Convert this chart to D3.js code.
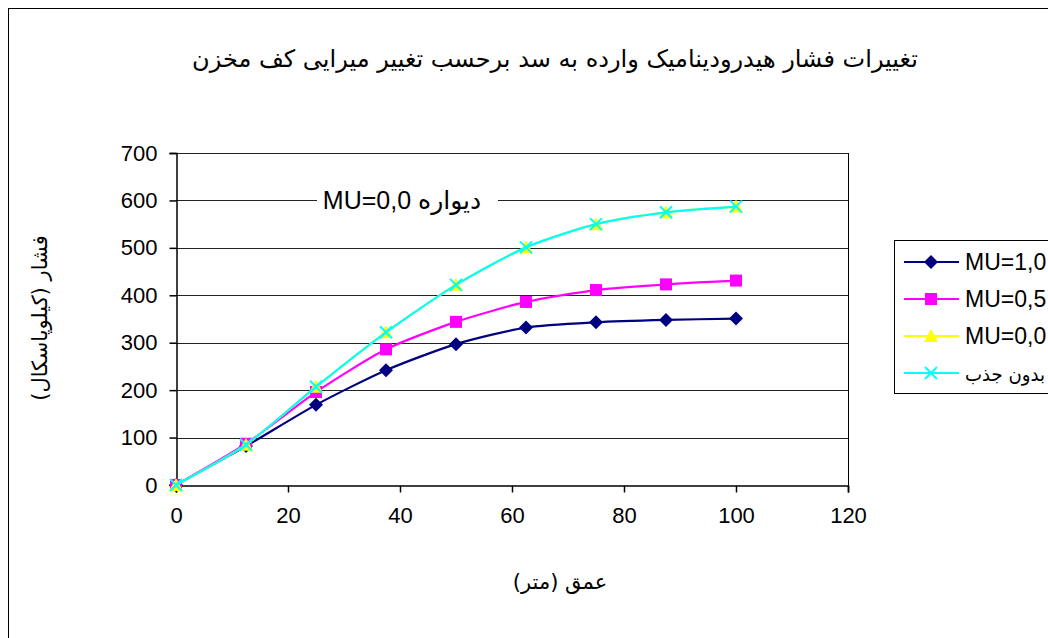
<!DOCTYPE html>
<html>
<head>
<meta charset="utf-8">
<script src="https://cdn.jsdelivr.net/npm/d3@7"></script>
<style>
  html, body { margin: 0; padding: 0; background: #fff; }
  svg { display: block; }
  text { font-family: "Liberation Sans", Arial, "DejaVu Sans", sans-serif; fill: #000; }
</style>
</head>
<body>
<svg id="chart" width="1048" height="638"></svg>
<script>
// ---- data ----
const depth = [0, 12.5, 25, 37.5, 50, 62.5, 75, 87.5, 100];
const mu10 = [0, 82, 169, 242, 297, 332, 343, 348, 351];
const mu05 = [0, 87, 196, 286, 344, 386, 411, 423, 431];
const mu00 = [0, 85, 207, 322, 422, 501, 550, 575, 587];
const noAbsorb = [0, 85, 207, 322, 422, 501, 550, 575, 587];
const seriesNames = ["MU=1,0", "MU=0,5", "MU=0,0", "بدون جذب"];
const xTicks = [0, 20, 40, 60, 80, 100, 120];
const yTicks = [0, 100, 200, 300, 400, 500, 600, 700];
const titleText = "تغییرات فشار هیدرودینامیک وارده به سد برحسب تغییر میرایی کف مخزن";
const xLabel = "عمق (متر)";
const yLabel = "فشار (کیلوپاسکال)";
const noteText = "MU=0,0 دیواره";
const noteValue = 600;

// ---- layout ----
const svg = d3.select("#chart");
const plot = { left: 176, top: 153, right: 848, bottom: 485 };
const x = d3.scaleLinear().domain([0, 120]).range([plot.left, plot.right]);
const y = d3.scaleLinear().domain([0, 700]).range([plot.bottom, plot.top]);

// outer chart border (extends past the viewport)
svg.append("rect").attr("x", 8.5).attr("y", 8.5).attr("width", 1100).attr("height", 700)
  .attr("fill", "none").attr("stroke", "#000").attr("stroke-width", 1);

// title
svg.append("text").attr("x", 555).attr("y", 67).attr("text-anchor", "middle")
  .attr("direction", "rtl").style("font-family", "'DejaVu Sans', sans-serif")
  .style("font-size", "24px").text(titleText);

// gridlines
svg.append("g").selectAll("line").data(yTicks.filter(d => d > 0)).join("line")
  .attr("x1", plot.left).attr("x2", plot.right)
  .attr("y1", d => Math.round(y(d)) + 0.5).attr("y2", d => Math.round(y(d)) + 0.5)
  .attr("stroke", "#222").attr("stroke-width", 1.2);

// plot border right
svg.append("line").attr("x1", plot.right + 0.5).attr("x2", plot.right + 0.5)
  .attr("y1", plot.top).attr("y2", plot.bottom).attr("stroke", "#000");

// axes
const xAxis = d3.axisBottom(x).tickValues(xTicks).tickSize(7).tickPadding(15).tickFormat(d3.format("d"));
const gx = svg.append("g").attr("transform", `translate(0,${Math.round(plot.bottom) + 0.5})`).call(xAxis);
gx.select(".domain").attr("stroke", "#000").attr("stroke-width", 1.5);
gx.selectAll(".tick line").attr("stroke", "#000").attr("stroke-width", 1.5);
gx.selectAll("text").style("font-size", "22px").style("font-family", "'Liberation Sans', Arial, sans-serif");

const yAxis = d3.axisLeft(y).tickValues(yTicks).tickSize(7).tickPadding(12).tickFormat(d3.format("d"));
const gy = svg.append("g").attr("transform", `translate(${plot.left + 0.5},0)`).call(yAxis);
gy.select(".domain").attr("stroke", "#000").attr("stroke-width", 1.5);
gy.selectAll(".tick line").attr("stroke", "#000").attr("stroke-width", 1.5);
gy.selectAll("text").style("font-size", "22px").style("font-family", "'Liberation Sans', Arial, sans-serif");

// annotation on 600 gridline
const noteG = svg.append("g");
const noteT = noteG.append("text").attr("x", 402).attr("y", y(noteValue) + 9)
  .attr("text-anchor", "middle").style("font-size", "25px")
  .style("font-family", "'Liberation Sans', 'DejaVu Sans', sans-serif")
  .attr("direction", "ltr").text(noteText);
const bb = noteT.node().getBBox();
noteG.insert("rect", "text").attr("x", 317).attr("y", bb.y).attr("width", 498 - 317).attr("height", bb.height).attr("fill", "#fff");

// axis labels
svg.append("text").attr("x", 560).attr("y", 589).attr("text-anchor", "middle")
  .attr("direction", "rtl").style("font-family", "'DejaVu Sans', sans-serif")
  .style("font-size", "21px").text(xLabel);
svg.append("text").attr("transform", "translate(47,318) rotate(-90)").attr("text-anchor", "middle")
  .attr("direction", "rtl").style("font-family", "'DejaVu Sans', sans-serif")
  .style("font-size", "21px").text(yLabel);

// series
const series = [
  { name: seriesNames[0], values: mu10, color: "#000080", marker: "diamond" },
  { name: seriesNames[1], values: mu05, color: "#FF00FF", marker: "square" },
  { name: seriesNames[2], values: mu00, color: "#FFFF00", marker: "triangle" },
  { name: seriesNames[3], values: noAbsorb, color: "#00FFFF", marker: "x" }
];

const line = d3.line().x(d => x(d[0])).y(d => y(d[1])).curve(d3.curveCardinal.tension(0.3));

function drawMarker(g, type, cx, cy, color) {
  if (type === "diamond") {
    g.append("path").attr("d", `M${cx},${cy - 7}L${cx + 7},${cy}L${cx},${cy + 7}L${cx - 7},${cy}Z`).attr("fill", color);
  } else if (type === "square") {
    g.append("rect").attr("x", cx - 6).attr("y", cy - 6).attr("width", 12).attr("height", 12).attr("fill", color);
  } else if (type === "triangle") {
    g.append("path").attr("d", `M${cx},${cy - 7}L${cx + 7},${cy + 6}L${cx - 7},${cy + 6}Z`).attr("fill", color);
  } else if (type === "x") {
    g.append("path").attr("d", `M${cx - 6},${cy - 6}L${cx + 6},${cy + 6}M${cx + 6},${cy - 6}L${cx - 6},${cy + 6}`)
      .attr("stroke", color).attr("stroke-width", 2).attr("fill", "none");
  }
}

series.forEach(s => {
  const pts = depth.map((d, i) => [d, s.values[i]]);
  const g = svg.append("g");
  g.append("path").datum(pts).attr("d", line).attr("fill", "none")
    .attr("stroke", s.color).attr("stroke-width", 2.2);
  pts.forEach(p => drawMarker(g, s.marker, x(p[0]), y(p[1]), s.color));
});

// legend
const lg = svg.append("g");
lg.append("rect").attr("x", 894.5).attr("y", 240.5).attr("width", 200).attr("height", 153)
  .attr("fill", "#fff").attr("stroke", "#000");
const legY = [262, 299, 336, 373];
series.forEach((s, i) => {
  const ly = legY[i];
  lg.append("line").attr("x1", 904).attr("x2", 959).attr("y1", ly).attr("y2", ly)
    .attr("stroke", s.color).attr("stroke-width", 2.2);
  drawMarker(lg, s.marker, 931, ly, s.color);
  const t = lg.append("text").attr("x", 965).attr("y", ly + 8)
    .style("font-size", i === 3 ? "19px" : "23px")
    .style("font-family", i === 3 ? "'DejaVu Sans', sans-serif" : "'Liberation Sans', Arial, sans-serif")
    .text(s.name);
  if (i === 3) t.attr("textLength", 80).attr("lengthAdjust", "spacingAndGlyphs");
});
</script>
</body>
</html>
